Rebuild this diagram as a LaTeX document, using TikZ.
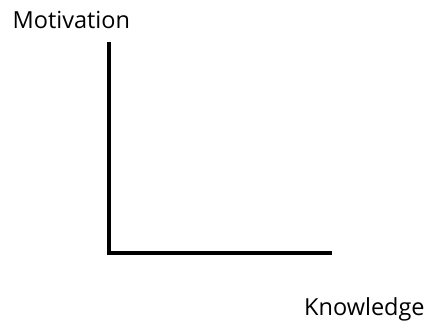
\documentclass[tikz,border=0pt]{standalone}
\usepackage{fontspec}
\setmainfont{Open Sans}
\usetikzlibrary{positioning}

\begin{document}
\begin{tikzpicture}[x=1pt, y=-1pt,
  axis/.style={line width=4pt, line join=miter},
  achse/.style={font=\fontsize{23.5}{28}\selectfont, inner sep=0pt, anchor=base west}]
  \useasboundingbox (0,0) rectangle (435,323);

  % Achsen
  \coordinate (ytop) at (109,42);
  \coordinate (origin) at (109,252.5);
  \coordinate (xend) at (332,252.5);
  \draw[axis] (ytop) -- (origin) -- (xend);

  % Beschriftung
  \node[achse] (motivation) at (12.5,29) {Motivation};
  \node[achse] (knowledge) at (304,315) {Knowledge};
\end{tikzpicture}
\end{document}
